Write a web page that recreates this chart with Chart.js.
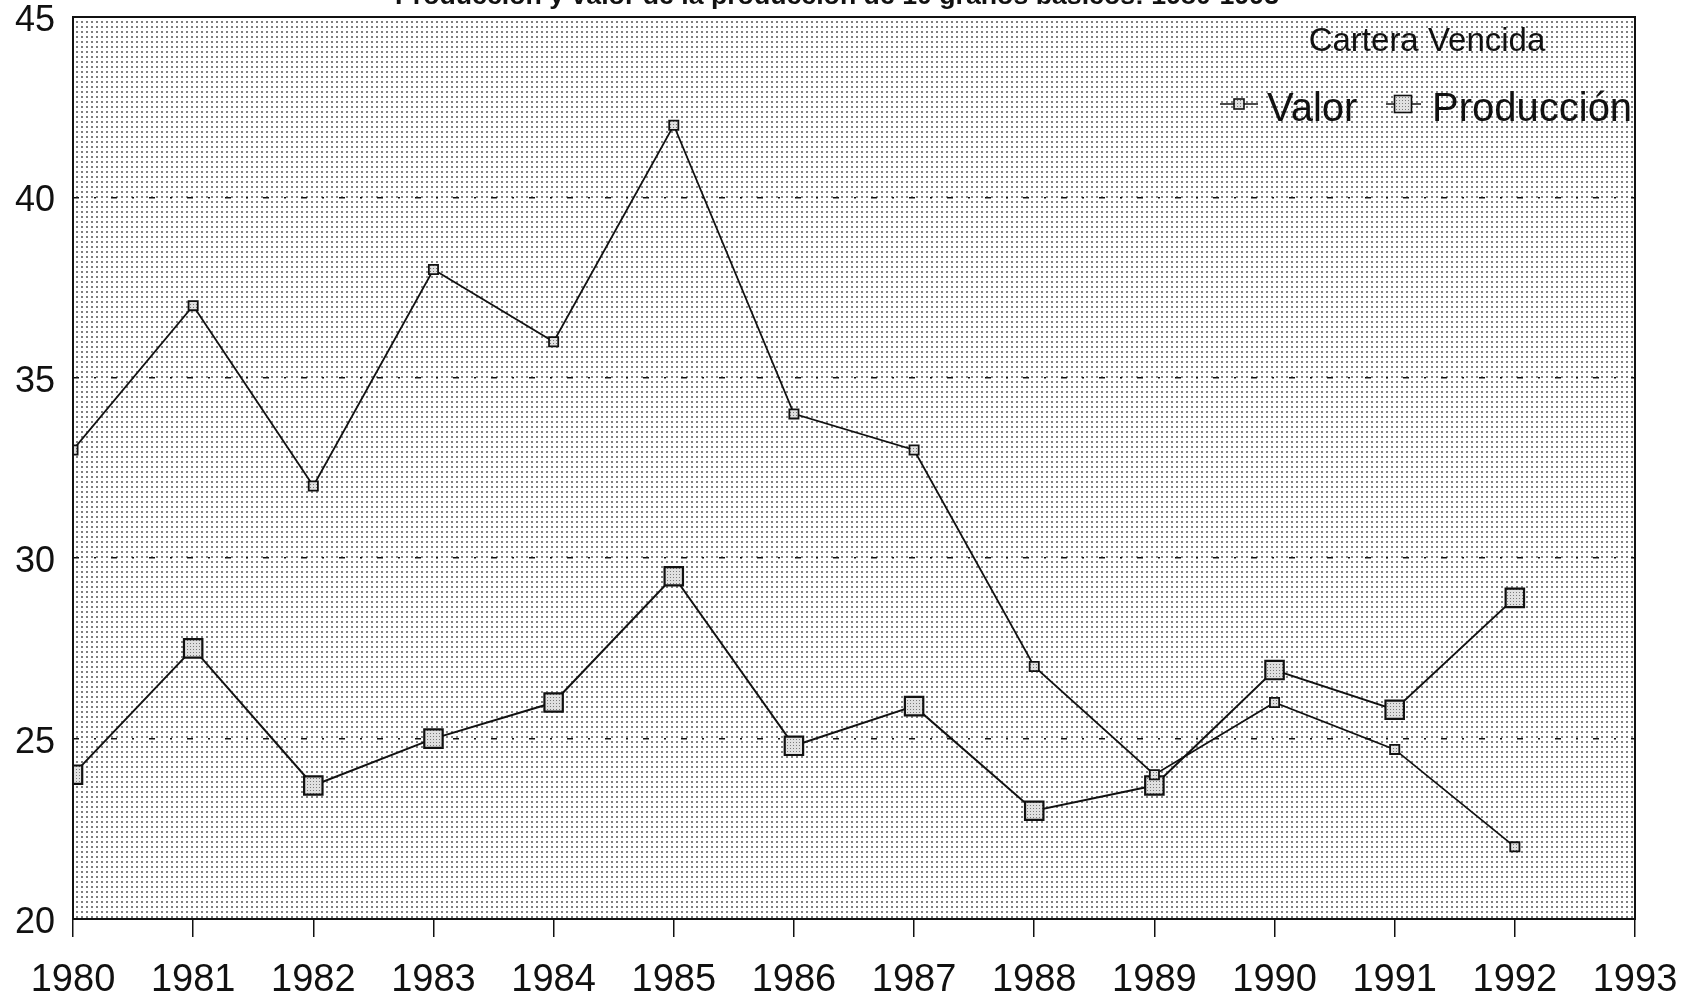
<!DOCTYPE html>
<html>
<head>
<meta charset="utf-8">
<script src="https://cdn.jsdelivr.net/npm/chart.js@4.4.1/dist/chart.umd.min.js"></script>
<style>
  html, body { margin: 0; padding: 0; background: #fff; }
  #wrap { width: 1693px; height: 1000px; position: relative; }
</style>
</head>
<body>
<div id="wrap"><canvas id="c" width="1693" height="1000"></canvas></div>
<script>
// ---- Data ----
const chartTitle = "Producción y valor de la producción de 10 granos básicos: 1980-1993";
const legendTitle = "Cartera Vencida";
const years = [1980, 1981, 1982, 1983, 1984, 1985, 1986, 1987, 1988, 1989, 1990, 1991, 1992];
const valor = [33, 37, 32, 38, 36, 42, 34, 33, 27, 24, 26, 24.7, 22];
const produccion = [24, 27.5, 23.7, 25, 26, 29.5, 24.8, 25.9, 23, 23.7, 26.9, 25.8, 28.9];
const seriesNames = ["Valor", "Producción"];
const xMin = 1980, xMax = 1993;
const yMin = 20, yMax = 45, yStep = 5;

// ---- Patterns ----
function makePattern(size, dot, bg, fg) {
  const c = document.createElement('canvas');
  c.width = size; c.height = size;
  const g = c.getContext('2d');
  g.fillStyle = bg; g.fillRect(0, 0, size, size);
  g.fillStyle = fg; g.fillRect(1, 1, dot, dot);
  return document.getElementById('c').getContext('2d').createPattern(c, 'repeat');
}
const plotPattern = makePattern(5, 2, '#ffffff', '#7e7e7e');
const markerPattern = makePattern(3, 1, '#e0e0e0', '#7a7a7a');

const FONT = "'Liberation Sans', Arial, Helvetica, sans-serif";

const framePlugin = {
  id: 'frame',
  beforeDraw(chart) {
    const a = chart.chartArea, ctx = chart.ctx;
    ctx.save();
    ctx.fillStyle = plotPattern;
    ctx.fillRect(a.left, a.top, a.right - a.left, a.bottom - a.top);
    ctx.restore();
  },
  afterDatasetsDraw(chart) {
    const a = chart.chartArea, ctx = chart.ctx;
    ctx.save();
    ctx.strokeStyle = '#111';
    ctx.lineWidth = 2;
    ctx.strokeRect(a.left, a.top, a.right - a.left, a.bottom - a.top);
    // title (cut off at top like the reference)
    ctx.fillStyle = '#111';
    let fs = 24;
    ctx.font = 'bold ' + fs + 'px ' + FONT;
    const w = ctx.measureText(chartTitle).width;
    fs = fs * 886 / w;
    ctx.font = 'bold ' + fs.toFixed(1) + 'px ' + FONT;
    ctx.textAlign = 'center';
    ctx.textBaseline = 'alphabetic';
    ctx.fillText(chartTitle, 837, 4);
    ctx.restore();
  }
};

const legendPlugin = {
  id: 'customLegend',
  afterDatasetsDraw(chart) {
    const ctx = chart.ctx;
    ctx.save();
    ctx.fillStyle = '#111';
    ctx.font = '33px ' + FONT;
    ctx.textAlign = 'center';
    ctx.textBaseline = 'middle';
    ctx.fillText(legendTitle, 1427, 42);

    const items = [
      { label: chart.data.datasets[0].label, lx0: 1220, lx1: 1258, mx: 1239, ms: 10, tx: 1267 },
      { label: chart.data.datasets[1].label, lx0: 1386, lx1: 1421, mx: 1403, ms: 17, tx: 1432 }
    ];
    const y = 104;
    items.forEach(it => {
      ctx.strokeStyle = '#111';
      ctx.lineWidth = 1.6;
      ctx.beginPath(); ctx.moveTo(it.lx0, y); ctx.lineTo(it.lx1, y); ctx.stroke();
      ctx.fillStyle = markerPattern;
      ctx.fillRect(it.mx - it.ms / 2, y - it.ms / 2, it.ms, it.ms);
      ctx.strokeRect(it.mx - it.ms / 2, y - it.ms / 2, it.ms, it.ms);
      ctx.fillStyle = '#111';
      ctx.font = '40px ' + FONT;
      ctx.textAlign = 'left';
      ctx.textBaseline = 'alphabetic';
      ctx.fillText(it.label, it.tx, 121);
    });
    ctx.restore();
  }
};

const toPoints = arr => years.map((yr, i) => ({ x: yr, y: arr[i] }));

new Chart(document.getElementById('c'), {
  type: 'line',
  data: {
    datasets: [
      {
        label: seriesNames[0],
        data: toPoints(valor),
        borderColor: '#111',
        borderWidth: 1.8,
        tension: 0,
        pointStyle: 'rect',
        pointRadius: 6.5,
        pointBackgroundColor: markerPattern,
        pointBorderColor: '#111',
        pointBorderWidth: 1.8
      },
      {
        label: seriesNames[1],
        data: toPoints(produccion),
        borderColor: '#111',
        borderWidth: 2,
        tension: 0,
        pointStyle: 'rect',
        pointRadius: 13,
        pointBackgroundColor: markerPattern,
        pointBorderColor: '#111',
        pointBorderWidth: 2.2
      }
    ]
  },
  options: {
    responsive: false,
    animation: false,
    events: [],
    layout: { padding: { top: 17, right: 58, left: 0, bottom: 0 } },
    plugins: {
      legend: { display: false },
      title: { display: false },
      tooltip: { enabled: false }
    },
    scales: {
      x: {
        type: 'linear',
        min: xMin, max: xMax,
        afterFit(scale) { scale.height = 81; scale.paddingLeft = 0; scale.paddingRight = 0; },
        ticks: {
          stepSize: 1,
          autoSkip: false,
          maxRotation: 0,
          color: '#111',
          padding: 21,
          font: { family: FONT, size: 38 },
          callback: v => String(v)
        },
        grid: {
          drawOnChartArea: false,
          drawTicks: true,
          tickLength: 18,
          color: '#111',
          lineWidth: 1.5
        },
        border: { display: false }
      },
      y: {
        min: yMin, max: yMax,
        afterFit(scale) { scale.width = 73; scale.paddingTop = 0; scale.paddingBottom = 0; },
        ticks: {
          stepSize: yStep,
          color: '#111',
          padding: 18,
          labelOffset: 4,
          font: { family: FONT, size: 36 }
        },
        grid: {
          drawTicks: false,
          color: ctx => (ctx.tick && (ctx.tick.value === yMin || ctx.tick.value === yMax)) ? 'rgba(0,0,0,0)' : '#111',
          lineWidth: 1.6
        },
        border: { display: false, dash: [6, 15, 2, 15] }
      }
    }
  },
  plugins: [framePlugin, legendPlugin]
});
</script>
</body>
</html>
